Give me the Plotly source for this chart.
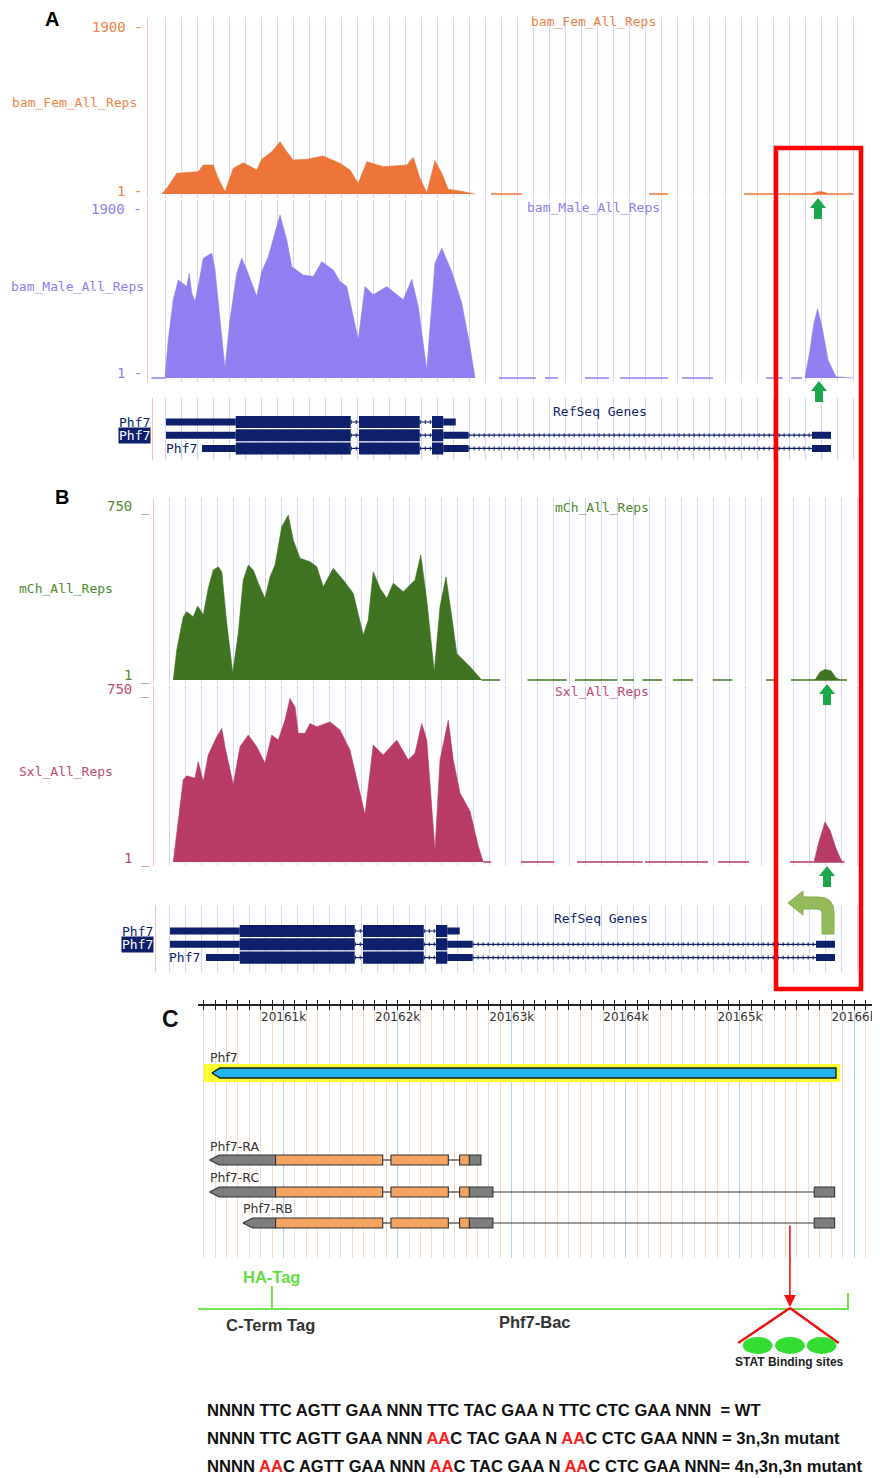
import re
import plotly.graph_objects as go

# The page body keeps its default 8px margin, so the figure is drawn 8px in;
# all layout positions below are given in window pixels and shifted by OFF.
OFF = 8
W, H = 880 - OFF, 1478 - OFF
def px(x): return (x - OFF) / W
def py(y): return 1 - (y - OFF) / H

# ====================== DATA ======================
# Panels A/B: read coverage vs position (bp from left edge of the Phf7 window)
FEM_MAX, MALE_MAX, MCH_MAX, SXL_MAX, TRACK_MIN = 1900, 1900, 750, 750, 1

FEM_POS = [-26, 14, 94, 200, 266, 306, 386, 426, 480, 546, 626, 734, 774, 854, 920, 974, 1026,
           1134, 1266, 1400, 1480, 1546, 1614, 1746, 1934, 1986, 2040, 2094, 2160, 2214, 2266,
           2360, 2480]
FEM_VAL = [0, 65, 236, 242, 254, 330, 330, 179, 26, 292, 356, 273, 395, 481, 595, 481, 387,
           395, 432, 349, 273, 122, 368, 311, 330, 418, 179, 15, 379, 236, 53,
           34, 0]
FEM_PEAK_POS = [5176, 5210, 5240, 5280, 5304]
FEM_PEAK_VAL = [0, 20, 28, 20, 0]
FEM_LOW = [[2608, 2856], [3872, 4024], [4632, 5504]]

MALE_POS = [0, 26, 66, 106, 174, 194, 214, 240, 280, 306, 374, 400, 440, 480, 520, 574, 614, 654,
            734, 774, 826, 920, 974, 1014, 1106, 1186, 1254, 1346, 1400, 1454, 1546, 1600, 1666,
            1774, 1906, 1974, 2026, 2094, 2160, 2214, 2294, 2374, 2440, 2480]
MALE_VAL = [0, 430, 879, 1103, 1028, 1178, 954, 860, 1140, 1346, 1403, 1215, 654, 112, 654, 1178,
            1346, 1215, 916, 1196, 1364, 1832, 1552, 1252, 1159, 1140, 1308, 1215, 1084, 1028, 430,
            1028, 935, 1028, 879, 1111, 803, 93, 1290, 1459, 1196, 842, 355, 0]
MALE_PEAK_POS = [5120, 5160, 5192, 5221, 5256, 5304, 5368, 5440, 5504]
MALE_PEAK_VAL = [0, 315, 620, 776, 575, 202, 15, 5, 0]
MALE_LOW = [[-110, 0], [2672, 2968], [3040, 3144], [3360, 3552], [3640, 4024], [4136, 4384],
            [4808, 4944], [5008, 5096]]

MCH_POS = [34, 62, 114, 142, 194, 230, 274, 314, 354, 394, 422, 462, 510, 554, 594, 634, 674, 714,
           768, 808, 848, 902, 954, 994, 1048, 1128, 1182, 1234, 1314, 1394, 1474, 1554, 1594,
           1634, 1688, 1742, 1794, 1874, 1968, 2014, 2062, 2122, 2168, 2216, 2262, 2302, 2408, 2502]
MCH_VAL = [0, 131, 276, 298, 276, 323, 283, 400, 480, 494, 472, 247, 32, 204, 436, 501, 480, 422,
           356, 450, 501, 668, 719, 610, 531, 516, 494, 407, 487, 436, 378, 196, 262,
           472, 400, 356, 422, 385, 436, 545, 349, 36, 320, 450, 276, 116, 58, 0]
MCH_PEAK_POS = [5168, 5208, 5248, 5296, 5336, 5368]
MCH_PEAK_VAL = [0, 35, 46, 40, 10, 0]
MCH_LOW = [[2502, 2648], [2868, 3182], [3248, 3584], [3632, 3720], [3788, 3944], [4032, 4192],
           [4350, 4506], [4776, 4843], [4976, 5424]]

SXL_POS = [34, 74, 114, 142, 208, 234, 274, 314, 354, 382, 422, 448, 514, 568, 634, 702, 768, 822,
           874, 928, 968, 1008, 1034, 1088, 1128, 1182, 1288, 1368, 1448, 1514, 1568, 1634, 1714,
           1822, 1914, 1968, 2022, 2062, 2128, 2168, 2234, 2274, 2328, 2408, 2474, 2514]
SXL_VAL = [0, 187, 363, 380, 370, 443, 355, 472, 524, 553, 589, 509, 341, 509, 560, 509, 436, 560,
           538, 626, 721, 684, 568, 568, 611, 597, 618, 582, 494, 333, 209, 516, 472,
           538, 450, 480, 611, 538, 48, 450, 626, 450, 304, 224, 70, 0]
SXL_PEAK_POS = [5160, 5200, 5248, 5288, 5336, 5384]
SXL_PEAK_VAL = [0, 90, 177, 140, 60, 0]
SXL_LOW = [[2514, 2578], [2814, 3083], [3264, 3788], [3808, 4312], [4392, 4640], [4968, 5405]]

# RefSeq gene models (rows 1..3), bp in the same window
UTR_ROW = [1, 1, 2, 2, 2, 3, 3, 3]
UTR_START = [8, 2226, 8, 2226, 5176, 296, 2226, 5176]
UTR_END = [566, 2326, 566, 2429, 5328, 566, 2429, 5328]
CDS_ROW = [1, 1, 1, 2, 2, 2, 3, 3, 3]
CDS_START = [566, 1552, 2136, 566, 1552, 2136, 566, 1552, 2136]
CDS_END = [1486, 2038, 2226, 1486, 2038, 2226, 1486, 2038, 2226]

# Panel C: genomic coordinates (kb)
C_TICKS = [20161, 20162, 20163, 20164, 20165, 20166]
C_TICK_TEXT = ["20161k", "20162k", "20163k", "20164k", "20165k", "20166k"]
GENE_C = [20160.372, 20165.842]
TX_NAMES = ["Phf7-RA", "Phf7-RC", "Phf7-RB"]
TX_UTR = {
    "Phf7-RA": [[20160.351, 20160.930], [20162.628, 20162.730]],
    "Phf7-RC": [[20160.351, 20160.930], [20162.628, 20162.835], [20165.651, 20165.830]],
    "Phf7-RB": [[20160.644, 20160.930], [20162.628, 20162.835], [20165.651, 20165.830]],
}
TX_CDS = {
    "Phf7-RA": [[20160.930, 20161.869], [20161.941, 20162.444], [20162.543, 20162.628]],
    "Phf7-RC": [[20160.930, 20161.869], [20161.941, 20162.444], [20162.543, 20162.628]],
    "Phf7-RB": [[20160.930, 20161.869], [20161.941, 20162.444], [20162.543, 20162.628]],
}
CONSTRUCT = [20160.118, 20165.947]
HA_TAG = 20160.898
STAT_SITE = 20165.438
STAT_SITES = [20165.155, 20165.438, 20165.715]

SEQ_LINES = [
    "NNNN TTC AGTT GAA NNN TTC TAC GAA N TTC CTC GAA NNN \u00a0= WT",
    "NNNN TTC AGTT GAA NNN [AA]C TAC GAA N [AA]C CTC GAA NNN = 3n,3n mutant",
    "NNNN [AA]C AGTT GAA NNN [AA]C TAC GAA N [AA]C CTC GAA NNN= 4n,3n,3n mutant",
]

# ====================== STYLE / LAYOUT ======================
UFONT = "DejaVu Sans Mono"
GRID_AB = "#d2d2fa"
PINK = "#f2c2c2"
NAVY = "#0e1f6c"
C_FEM, T_FEM = "#ed753a", "#ee8448"
C_MALE, T_MALE = "#8f7ff0", "#8b80f0"
C_MCH, T_MCH = "#3f7322", "#4f8a2e"
C_SXL, T_SXL = "#b83a66", "#bd4a73"
ARROW_GREEN = "#1ba64b"

fig = go.Figure()

def area(xs, ys, color, xa, ya):
    return go.Scatter(x=xs, y=ys, xaxis=xa, yaxis=ya, mode="lines", fill="tozeroy",
                      line=dict(color=color, width=0.6), fillcolor=color, hoverinfo="skip")

def low_line(segs, color, xa, ya):
    xs, ys = [], []
    for a, b in segs:
        xs += [a, b, None]
        ys += [0, 0, None]
    return go.Scatter(x=xs, y=ys, xaxis=xa, yaxis=ya, mode="lines",
                      line=dict(color=color, width=2), opacity=0.75, hoverinfo="skip")

tracks = [
    (FEM_POS, FEM_VAL, FEM_PEAK_POS, FEM_PEAK_VAL, FEM_LOW, C_FEM, "x", "y"),
    (MALE_POS, MALE_VAL, MALE_PEAK_POS, MALE_PEAK_VAL, MALE_LOW, C_MALE, "x2", "y2"),
    (MCH_POS, MCH_VAL, MCH_PEAK_POS, MCH_PEAK_VAL, MCH_LOW, C_MCH, "x4", "y4"),
    (SXL_POS, SXL_VAL, SXL_PEAK_POS, SXL_PEAK_VAL, SXL_LOW, C_SXL, "x5", "y5"),
]
for pos, val, ppos, pval, low, col, xa, ya in tracks:
    fig.add_trace(low_line(low, col, xa, ya))
    fig.add_trace(area(pos, val, col, xa, ya))
    fig.add_trace(area(ppos, pval, col, xa, ya))

def introns_from(rows, starts, ends):
    blocks = {}
    for r, s, e in zip(rows, starts, ends):
        blocks.setdefault(r, []).append((s, e))
    xs, ys = [], []
    for r, bl in blocks.items():
        bl.sort()
        for (s0, e0), (s1, e1) in zip(bl[:-1], bl[1:]):
            if s1 > e0:
                xs += [e0, s1, None]
                ys += [r, r, None]
    return xs, ys

ix, iy = introns_from(UTR_ROW + CDS_ROW, UTR_START + CDS_START, UTR_END + CDS_END)

for xa, ya in [("x3", "y3"), ("x6", "y6")]:
    fig.add_trace(go.Scatter(x=ix, y=iy, xaxis=xa, yaxis=ya, mode="lines",
                             line=dict(color=NAVY, width=1.2), hoverinfo="skip"))
    fig.add_trace(go.Scatter(x=ix, y=iy, xaxis=xa, yaxis=ya, mode="lines",
                             line=dict(color=NAVY, width=4, dash="1px,4px"), hoverinfo="skip"))
    fig.add_trace(go.Bar(orientation="h", y=UTR_ROW, base=UTR_START,
                         x=[e - s for s, e in zip(UTR_START, UTR_END)], width=0.53,
                         marker=dict(color=NAVY, line=dict(width=0)), xaxis=xa, yaxis=ya,
                         hoverinfo="skip"))
    fig.add_trace(go.Bar(orientation="h", y=CDS_ROW, base=CDS_START,
                         x=[e - s for s, e in zip(CDS_START, CDS_END)], width=0.91,
                         marker=dict(color=NAVY, line=dict(width=0)), xaxis=xa, yaxis=ya,
                         hoverinfo="skip"))

# ---- Panel C ----
C_TOP, C_BOT = 1006, 1258
def yc(p): return p - C_TOP
C_ROW_PX = {"Phf7": 1073, "Phf7-RA": 1160, "Phf7-RC": 1192, "Phf7-RB": 1223}
EXON_H = 5
TIP = 0.085

def rect_pts(x0, x1, y, h):
    return [x0, x1, x1, x0, x0, None], [y - h, y - h, y + h, y + h, y - h, None]

def larrow_pts(x0, x1, y, h, tip):
    return [x0, x0 + tip, x1, x1, x0 + tip, x0, None], [y, y - h, y - h, y + h, y + h, y, None]

gy = yc(C_ROW_PX["Phf7"])
hx, hy = rect_pts(GENE_C[0] - 0.07, GENE_C[1] + 0.035, gy, 9)
fig.add_trace(go.Scatter(x=hx, y=hy, xaxis="x7", yaxis="y7", mode="lines", fill="toself",
                         fillcolor="#ffff33", line=dict(width=0), hoverinfo="skip"))
gx, gyy = larrow_pts(GENE_C[0], GENE_C[1], gy, 5, 0.07)
fig.add_trace(go.Scatter(x=gx, y=gyy, xaxis="x7", yaxis="y7", mode="lines", fill="toself",
                         fillcolor="#22b4ea", line=dict(color="#1a1a1a", width=1.3), hoverinfo="skip"))

ux, uy, cx_, cy_, inx, iny = [], [], [], [], [], []
for name in TX_NAMES:
    y = yc(C_ROW_PX[name])
    blocks = sorted(TX_UTR[name] + TX_CDS[name])
    for (s0, e0), (s1, e1) in zip(blocks[:-1], blocks[1:]):
        if s1 > e0 + 1e-6:
            inx += [e0, s1, None]
            iny += [y, y, None]
    first = blocks[0]
    for s, e in TX_UTR[name]:
        if [s, e] == list(first):
            a, b = larrow_pts(s, e, y, EXON_H, TIP)
        else:
            a, b = rect_pts(s, e, y, EXON_H)
        ux += a; uy += b
    for s, e in TX_CDS[name]:
        a, b = rect_pts(s, e, y, EXON_H)
        cx_ += a; cy_ += b

fig.add_trace(go.Scatter(x=inx, y=iny, xaxis="x7", yaxis="y7", mode="lines",
                         line=dict(color="#3a3a3a", width=1.2), hoverinfo="skip"))
fig.add_trace(go.Scatter(x=ux, y=uy, xaxis="x7", yaxis="y7", mode="lines", fill="toself",
                         fillcolor="#7d7d7d", line=dict(color="#333333", width=1.1), hoverinfo="skip"))
fig.add_trace(go.Scatter(x=cx_, y=cy_, xaxis="x7", yaxis="y7", mode="lines", fill="toself",
                         fillcolor="#f4a462", line=dict(color="#333333", width=1.1), hoverinfo="skip"))
fig.add_trace(go.Scatter(x=[C_TICKS[0]], y=[0], xaxis="x8", yaxis="y7", mode="markers",
                         marker=dict(opacity=0), hoverinfo="skip"))
fig.add_trace(go.Scatter(x=[C_TICKS[0]], y=[0.5], xaxis="x9", yaxis="y9", mode="markers",
                         marker=dict(opacity=0), hoverinfo="skip"))

# ====================== AXES ======================
def cov_x(x0px, x1px, anchor):
    return dict(domain=[px(x0px), px(x1px)], range=[-110, 5576], anchor=anchor, showgrid=True,
                gridcolor=GRID_AB, gridwidth=1, tick0=0, dtick=128, showticklabels=False,
                ticks="", zeroline=False, showline=False, fixedrange=True)

def cov_y(top, bot, base, fullpx, full, line_x):
    per = full / (base - fullpx)
    return dict(domain=[py(bot), py(top)], range=[-(bot - base) * per, full + (fullpx - top) * per],
                anchor="free", position=px(line_x), showline=True, linecolor=PINK, linewidth=1,
                showgrid=False, zeroline=False, showticklabels=False, ticks="", fixedrange=True)

def gene_y(top, bot, row1, sp, line_x):
    return dict(domain=[py(bot), py(top)], range=[1 + (bot - row1) / sp, 1 + (top - row1) / sp],
                anchor="free", position=px(line_x), showline=True, linecolor=PINK, linewidth=1,
                showgrid=False, zeroline=False, showticklabels=False, ticks="", fixedrange=True)

A_X0, A_X1 = 165 - 110 / 8, 862
B_X0, B_X1 = 169 - 110 / 8, 866

layout_axes = dict(
    xaxis=cov_x(A_X0, A_X1, "y"),
    yaxis=cov_y(18, 198, 194, 27, FEM_MAX, 147),
    xaxis2=cov_x(A_X0, A_X1, "y2"),
    yaxis2=cov_y(200, 382, 378, 209, MALE_MAX, 147),
    xaxis3=cov_x(A_X0, A_X1, "y3"),
    yaxis3=gene_y(398, 460, 422, 13.2, 152),
    xaxis4=cov_x(B_X0, B_X1, "y4"),
    yaxis4=cov_y(498, 684, 680, 508, MCH_MAX, 153),
    xaxis5=cov_x(B_X0, B_X1, "y5"),
    yaxis5=cov_y(686, 866, 862, 692, SXL_MAX, 153),
    xaxis6=cov_x(B_X0, B_X1, "y6"),
    yaxis6=gene_y(905, 972, 931, 13.3, 155),
)
C_RANGE = [20160.25, 20166.21]
layout_axes["xaxis7"] = dict(
    domain=[px(198), px(878)], range=C_RANGE, anchor="y7", side="top", showline=True,
    linecolor="#222222", linewidth=1.5, ticks="outside", ticklen=4, tickcolor="#222222",
    tickwidth=1.2, tickmode="array", tickvals=C_TICKS, ticktext=C_TICK_TEXT,
    ticklabelposition="inside", ticklabelstandoff=6, ticklabeloverflow="allow",
    tickfont=dict(family="DejaVu Sans", size=12, color="#333333"),
    showgrid=True, gridcolor="#a9d8ef", gridwidth=1.3, zeroline=False, fixedrange=True,
    minor=dict(tick0=20161, dtick=0.1, ticks="outside", ticklen=4, tickcolor="#222222",
               tickwidth=1.2, showgrid=True, gridcolor="#f8dcc2", gridwidth=1.2))
layout_axes["xaxis8"] = dict(
    overlaying="x7", anchor="y7", side="top", range=C_RANGE, showline=False, ticks="inside",
    ticklen=4, tickcolor="#222222", tickwidth=1.2, tickmode="array", tickvals=C_TICKS,
    showticklabels=False, showgrid=False, zeroline=False, fixedrange=True,
    minor=dict(tick0=20161, dtick=0.1, ticks="inside", ticklen=4, tickcolor="#222222",
               tickwidth=1.2, showgrid=False))
layout_axes["yaxis7"] = dict(domain=[py(C_BOT), py(C_TOP)], range=[C_BOT - C_TOP, 0], anchor="x7",
                             visible=False, showgrid=False, zeroline=False, fixedrange=True)
layout_axes["xaxis9"] = dict(domain=[px(198), px(878)], range=C_RANGE, anchor="y9", visible=False,
                             showgrid=False, zeroline=False, fixedrange=True)
layout_axes["yaxis9"] = dict(domain=[py(1380), py(1262)], range=[0, 1], anchor="x9", visible=False,
                             showgrid=False, zeroline=False, fixedrange=True)

# ====================== ANNOTATIONS ======================
ann = []
def txt(x, y, s, size, color, family=UFONT, xanchor="center", xref="paper", **kw):
    ann.append(dict(x=x if xref != "paper" else px(x), y=py(y), xref=xref, yref="paper", text=s,
                    showarrow=False, xanchor=xanchor, yanchor="middle",
                    font=dict(family=family, size=size, color=color), **kw))

BOLD = "Liberation Sans"
txt(52, 19, "<b>A</b>", 20, "#000", BOLD)
txt(62, 497, "<b>B</b>", 20, "#000", BOLD)
txt(170, 1019, "<b>C</b>", 23, "#111", BOLD)

# UCSC-style y scale labels
for x, y, s, col in [(145, 27, f"{FEM_MAX} -", T_FEM), (144, 191, f"{TRACK_MIN} -", T_FEM),
                     (144, 209, f"{MALE_MAX} -", T_MALE), (144, 373, f"{TRACK_MIN} -", T_MALE),
                     (152, 506, f"{MCH_MAX} _", T_MCH), (152, 675, f"{TRACK_MIN} _", T_MCH),
                     (152, 690, f"{SXL_MAX} _", T_SXL), (152, 858, f"{TRACK_MIN} _", T_SXL)]:
    txt(x, y, s, 14, col, xanchor="right")

txt(593, 22, "bam_Fem_All_Reps", 13, T_FEM)
txt(74, 103, "bam_Fem_All_Reps", 13, T_FEM)
txt(593, 207, "bam_Male_All_Reps", 13, T_MALE)
txt(77, 286, "bam_Male_All_Reps", 13, T_MALE)
txt(600, 411, "RefSeq Genes", 13, NAVY)
txt(602, 508, "mCh_All_Reps", 13, T_MCH)
txt(66, 588, "mCh_All_Reps", 13, T_MCH)
txt(602, 691, "Sxl_All_Reps", 13, T_SXL)
txt(66, 771, "Sxl_All_Reps", 13, T_SXL)
txt(601, 919, "RefSeq Genes", 13, NAVY)

for (x1, y1), (x2, y2), (x3, y3) in [((134, 422), (135, 435.5), (181, 448.5)),
                                     ((137, 931), (137, 944.5), (184, 957.5))]:
    txt(x1, y1, "Phf7", 13, NAVY)
    txt(x2, y2, "Phf7", 13, "#ffffff", bgcolor=NAVY, borderpad=0)
    txt(x3, y3, "Phf7", 13, NAVY)

txt(208, 1057, "Phf7", 12.5, "#333333", "DejaVu Sans", xanchor="left")
for name, (lx, ly) in zip(TX_NAMES, [(208, 1146), (208, 1177), (241, 1208)]):
    txt(lx, ly, name, 12.5, "#333333", "DejaVu Sans", xanchor="left")

txt(HA_TAG, 1277, "<b>HA-Tag</b>", 16.5, "#66dd44", BOLD, xref="x9")
txt(270, 1325, "<b>C-Term Tag</b>", 16.5, "#333333", BOLD)
txt(535, 1322, "<b>Phf7-Bac</b>", 16.5, "#333333", BOLD)
txt(STAT_SITE, 1362, "<b>STAT Binding sites</b>", 12, "#222222", BOLD, xref="x9")

for i, line in enumerate(SEQ_LINES):
    html = re.sub(r"\[(.+?)\]", r"<span style='color:#ff1a1a'>\1</span>", line)
    txt(205, 1410 + 28 * i, "<b>" + html + "</b>", 16.6, "#111111", BOLD, xanchor="left")

ann.append(dict(x=STAT_SITE, y=py(1307), xref="x9", yref="paper", ax=0, ay=-83,
                showarrow=True, arrowhead=2, arrowsize=1.5, arrowwidth=1.6, arrowcolor="#ee1111",
                text=""))

# ====================== SHAPES ======================
shapes = []
def path_px(cmds):
    out = []
    for c in cmds:
        op, pts = c[0], c[1:]
        coords = " ".join(f"{px(pts[i]):.5f},{py(pts[i + 1]):.5f}" for i in range(0, len(pts), 2))
        out.append(op + coords)
    return " ".join(out) + " Z"

def up_arrow(cx, tip, length=21, hw=16, hh=10, sw=8):
    return path_px([("M", cx, tip), ("L", cx + hw / 2, tip + hh), ("L", cx + sw / 2, tip + hh),
                    ("L", cx + sw / 2, tip + length), ("L", cx - sw / 2, tip + length),
                    ("L", cx - sw / 2, tip + hh), ("L", cx - hw / 2, tip + hh)])

for cx, tip in [(818, 198), (819, 381), (827, 684), (827, 866)]:
    shapes.append(dict(type="path", xref="paper", yref="paper", path=up_arrow(cx, tip),
                       fillcolor=ARROW_GREEN, line=dict(width=0)))

bent = path_px([("M", 788, 903), ("L", 803, 891), ("L", 803, 897), ("L", 818, 897),
                ("Q", 834, 897, 834, 913), ("L", 834, 934), ("L", 822, 934), ("L", 822, 914),
                ("Q", 822, 909, 817, 909), ("L", 803, 909), ("L", 803, 915)])
shapes.append(dict(type="path", xref="paper", yref="paper", path=bent, fillcolor="#94ba5c",
                   line=dict(color="#84aa4e", width=1)))

shapes.append(dict(type="rect", xref="paper", yref="paper", x0=px(776), x1=px(861), y0=py(989),
                   y1=py(148), line=dict(color="#ff0000", width=4.5)))

GC = "#72df4e"
def seg(x0, y0, x1, y1, color, width):
    shapes.append(dict(type="line", xref="x9", yref="paper", x0=x0, y0=py(y0), x1=x1, y1=py(y1),
                       line=dict(color=color, width=width)))
seg(CONSTRUCT[0], 1309, CONSTRUCT[1], 1309, GC, 2)
seg(CONSTRUCT[0], 1309, CONSTRUCT[0] + 0.08, 1302, GC, 2)
seg(CONSTRUCT[0], 1309, CONSTRUCT[0] + 0.08, 1316, GC, 2)
seg(CONSTRUCT[1], 1293, CONSTRUCT[1], 1310, GC, 2)
seg(HA_TAG, 1286, HA_TAG, 1309, GC, 2)
seg(STAT_SITE, 1308, STAT_SITES[0] - 0.17, 1343, "#ee1111", 2.5)
seg(STAT_SITE, 1308, STAT_SITES[-1] + 0.15, 1343, "#ee1111", 2.5)
for s in STAT_SITES:
    shapes.append(dict(type="circle", xref="x9", yref="paper", x0=s - 0.13, x1=s + 0.13,
                       y0=py(1354), y1=py(1337), fillcolor="#33dd33", line=dict(width=0)))

fig.update_layout(width=W, height=H, margin=dict(l=0, r=0, t=0, b=0), showlegend=False,
                  paper_bgcolor="white", plot_bgcolor="white", barmode="overlay",
                  hovermode=False, annotations=ann, shapes=shapes, **layout_axes)

fig.write_html("out.html", config={"displayModeBar": False})
